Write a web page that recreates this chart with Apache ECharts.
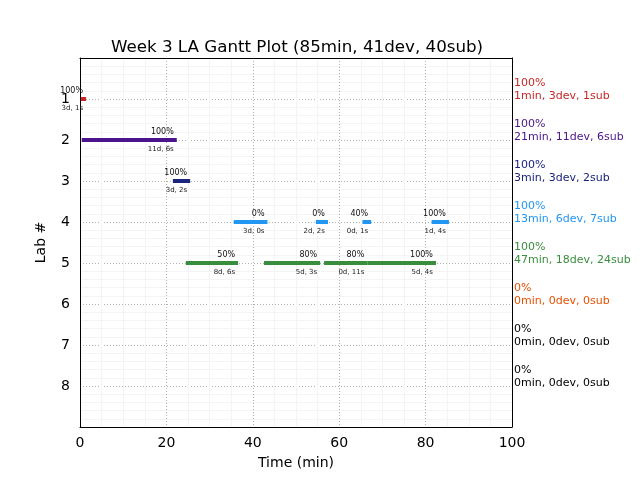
<!DOCTYPE html>
<html>
<head>
<meta charset="utf-8">
<script src="https://cdn.jsdelivr.net/npm/echarts@6/dist/echarts.min.js"></script>
<style>html,body{margin:0;padding:0;background:#fff}#c{width:640px;height:480px}</style>
</head>
<body>
<div id="c"></div>
<script>
// ---- data ----
const barLabs   = [1, 2, 3, 4, 4, 4, 4, 5, 5, 5, 5];
const barStarts = [0.2, 0.4, 21.5, 35.6, 54.6, 65.4, 81.4, 24.5, 42.6, 56.5, 66.5];
const barEnds   = [1.4, 22.4, 25.5, 43.4, 57.4, 67.4, 85.4, 36.6, 55.6, 66.5, 82.4];
const barPcts   = ['100%', '100%', '100%', '0%', '0%', '40%', '100%', '50%', '80%', '80%', '100%'];
const barSubs   = ['3d, 1s', '11d, 6s', '3d, 2s', '3d, 0s', '2d, 2s', '0d, 1s', '1d, 4s', '8d, 6s', '5d, 3s', '0d, 11s', '5d, 4s'];

const labs       = [1, 2, 3, 4, 5, 6, 7, 8];
const labPcts    = ['100%', '100%', '100%', '100%', '100%', '0%', '0%', '0%'];
const labInfo    = ['1min, 3dev, 1sub', '21min, 11dev, 6sub', '3min, 3dev, 2sub', '13min, 6dev, 7sub',
                    '47min, 18dev, 24sub', '0min, 0dev, 0sub', '0min, 0dev, 0sub', '0min, 0dev, 0sub'];
const labColors  = ['#c62828', '#4a148c', '#1a237e', '#2196f3', '#388e3c', '#e65100', '#000000', '#000000'];

const xTicks = [0, 20, 40, 60, 80, 100];
const yTicks = [1, 2, 3, 4, 5, 6, 7, 8];

const FONT = 'DejaVu Sans';

const barData = barLabs.map((l, i) => [barStarts[i], barEnds[i], l, i]);
const labData = labs.map((l, i) => [100, l, i]);

function frameX(pos) {
  return {type: 'value', position: pos, min: 0, max: 100, interval: 20, z: 4,
    axisLine: {show: true, onZero: false, lineStyle: {color: '#000', width: 1}},
    axisTick: {show: false}, axisLabel: {show: false},
    splitLine: {show: false}, minorSplitLine: {show: false}};
}
function frameY(pos) {
  return {type: 'value', position: pos, min: 0, max: 9, interval: 1, inverse: true, z: 4,
    axisLine: {show: true, onZero: false, lineStyle: {color: '#000', width: 1}},
    axisTick: {show: false}, axisLabel: {show: false},
    splitLine: {show: false}, minorSplitLine: {show: false}};
}

const chart = echarts.init(document.getElementById('c'), null, {renderer: 'canvas'});
chart.setOption({
  animation: false,
  backgroundColor: '#fff',
  title: {
    text: 'Week 3 LA Gantt Plot (85min, 41dev, 40sub)',
    left: 292, top: 34, textAlign: 'center',
    textStyle: {fontFamily: FONT, fontSize: 16.7, fontWeight: 'normal', color: '#000'}
  },
  grid: {left: 80, right: 128, top: 58, bottom: 53, show: true, borderWidth: 0, backgroundColor: '#fff'},
  xAxis: [{
    type: 'value', position: 'bottom', min: xTicks[0], max: xTicks[xTicks.length - 1], interval: 20, z: 0,
    name: 'Time (min)', nameLocation: 'middle', nameGap: 29,
    nameTextStyle: {fontFamily: FONT, fontSize: 14, color: '#000'},
    axisLine: {show: false},
    axisTick: {show: false},
    axisLabel: {fontFamily: FONT, fontSize: 14, color: '#000', margin: 9},
    splitLine: {show: true, lineStyle: {color: '#b0b0b0', type: [1, 2], width: 1}},
    minorTick: {show: false, splitNumber: 4},
    minorSplitLine: {show: true, lineStyle: {color: '#f4f4f4', width: 1}}
  }, frameX('bottom'), frameX('top')],
  yAxis: [{
    type: 'value', position: 'left', min: 0, max: 9, interval: 1, inverse: true, z: 0,
    name: 'Lab #', nameLocation: 'middle', nameGap: 32, nameRotate: 90,
    nameTextStyle: {fontFamily: FONT, fontSize: 14, color: '#000'},
    axisLine: {show: false},
    axisTick: {show: false},
    axisLabel: {fontFamily: FONT, fontSize: 14, color: '#000', margin: 10,
      formatter: v => yTicks.indexOf(v) >= 0 ? String(v) : ''},
    splitLine: {show: true, lineStyle: {color: '#b0b0b0', type: [1, 2], width: 1}},
    minorTick: {show: false, splitNumber: 5},
    minorSplitLine: {show: true, lineStyle: {color: '#f4f4f4', width: 1}}
  }, frameY('left'), frameY('right')],
  series: [
    {
      type: 'custom',
      data: barData,
      encode: {x: [0, 1], y: 2},
      clip: false,
      z: 5,
      renderItem: function (params, api) {
        const i = api.value(3);
        const lab = api.value(2);
        const s = api.coord([api.value(0), lab]);
        const e = api.coord([api.value(1), lab]);
        const h = 4;
        return {
          type: 'group',
          children: [
            {type: 'rect', shape: {x: s[0], y: s[1] - h / 2, width: e[0] - s[0], height: h},
             style: {fill: labColors[lab - 1]}},
            {type: 'text', style: {text: barPcts[i], x: e[0] - 3, y: s[1] - 8, align: 'right',
              verticalAlign: 'middle', font: '8px "' + FONT + '"', fill: '#111'}},
            {type: 'text', style: {text: barSubs[i], x: e[0] - 3, y: s[1] + 9, align: 'right',
              verticalAlign: 'middle', font: '7px "' + FONT + '"', fill: '#222'}}
          ]
        };
      }
    },
    {
      type: 'custom',
      data: labData,
      encode: {x: 0, y: 1},
      clip: false,
      z: 5,
      renderItem: function (params, api) {
        const i = api.value(2);
        const p = api.coord([api.value(0), api.value(1)]);
        const col = labColors[i];
        return {
          type: 'group',
          children: [
            {type: 'text', style: {text: labPcts[i], x: p[0] + 2, y: p[1] - 16, align: 'left',
              verticalAlign: 'middle', font: '11px "' + FONT + '"', fill: col}},
            {type: 'text', style: {text: labInfo[i], x: p[0] + 2, y: p[1] - 3, align: 'left',
              verticalAlign: 'middle', font: '11px "' + FONT + '"', fill: col}}
          ]
        };
      }
    }
  ]
});
</script>
</body>
</html>
